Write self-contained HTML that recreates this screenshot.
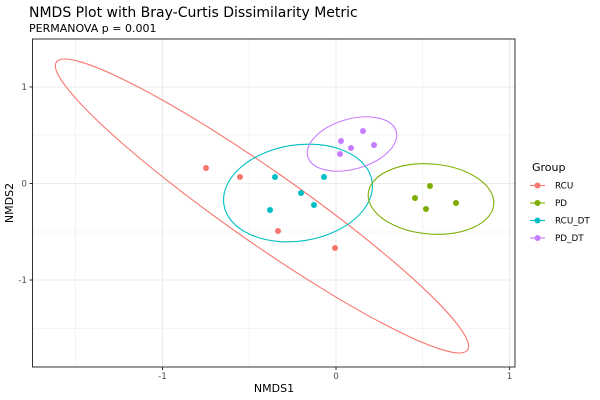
<!DOCTYPE html>
<html><head><meta charset="utf-8"><style>
html,body{margin:0;padding:0;background:#fff;}
svg{display:block;font-family:"DejaVu Sans","Liberation Sans",sans-serif;}
</style></head><body>
<svg width="600" height="400" viewBox="0 0 600 400" xmlns="http://www.w3.org/2000/svg">
<rect width="600" height="400" fill="#fff"/>
<text x="29" y="17" font-size="14" fill="#000">NMDS Plot with Bray-Curtis Dissimilarity Metric</text>
<text x="29" y="32" font-size="11" fill="#000">PERMANOVA p = 0.001</text>
<g stroke="#ebebeb" stroke-width="0.6">
<line x1="75.5" y1="39" x2="75.5" y2="367"/><line x1="249" y1="39" x2="249" y2="367"/><line x1="422.5" y1="39" x2="422.5" y2="367"/>
<line x1="32.5" y1="135" x2="515" y2="135"/><line x1="32.5" y1="232" x2="515" y2="232"/><line x1="32.5" y1="328.5" x2="515" y2="328.5"/>
</g>
<g stroke="#ebebeb" stroke-width="1.1">
<line x1="162.5" y1="39" x2="162.5" y2="367"/><line x1="336" y1="39" x2="336" y2="367"/><line x1="509.5" y1="39" x2="509.5" y2="367"/>
<line x1="32.5" y1="87" x2="515" y2="87"/><line x1="32.5" y1="183.5" x2="515" y2="183.5"/><line x1="32.5" y1="280" x2="515" y2="280"/>
</g>
<g fill="none" stroke-width="1.1">
<ellipse cx="262" cy="206" rx="251" ry="36" transform="rotate(35 262 206)" stroke="#F8766D"/>
<ellipse cx="298" cy="193" rx="75" ry="48" transform="rotate(-9 298 193)" stroke="#00BFC4"/>
<ellipse cx="352" cy="144" rx="46" ry="25" transform="rotate(-16 352 144)" stroke="#C77CFF"/>
<ellipse cx="431" cy="199" rx="63" ry="35" transform="rotate(5 431 199)" stroke="#7CAE00"/>
</g>
<g fill="#F8766D"><circle cx="206" cy="168" r="3"/><circle cx="240" cy="177" r="3"/><circle cx="278" cy="231" r="3"/><circle cx="335" cy="248" r="3"/></g>
<g fill="#7CAE00"><circle cx="430" cy="186" r="3"/><circle cx="415" cy="198" r="3"/><circle cx="426" cy="209" r="3"/><circle cx="456" cy="203" r="3"/></g>
<g fill="#00BFC4"><circle cx="275" cy="177" r="3"/><circle cx="324" cy="177" r="3"/><circle cx="301" cy="193" r="3"/><circle cx="314" cy="205" r="3"/><circle cx="270" cy="210" r="3"/></g>
<g fill="#C77CFF"><circle cx="341" cy="141" r="3"/><circle cx="363" cy="131" r="3"/><circle cx="351" cy="148" r="3"/><circle cx="374" cy="145" r="3"/><circle cx="340" cy="154" r="3"/></g>
<rect x="32.5" y="39" width="482.5" height="328" fill="none" stroke="#333" stroke-width="1"/>
<g stroke="#333" stroke-width="1">
<line x1="162.5" y1="367" x2="162.5" y2="370"/><line x1="336" y1="367" x2="336" y2="370"/><line x1="509.5" y1="367" x2="509.5" y2="370"/>
<line x1="29.5" y1="87" x2="32.5" y2="87"/><line x1="29.5" y1="183.5" x2="32.5" y2="183.5"/><line x1="29.5" y1="280" x2="32.5" y2="280"/>
</g>
<g font-size="8.8" fill="#4d4d4d" text-anchor="middle">
<text x="162.5" y="379">-1</text><text x="336" y="379">0</text><text x="509.5" y="379">1</text>
</g>
<g font-size="8.8" fill="#4d4d4d" text-anchor="end">
<text x="27" y="90">1</text><text x="27" y="186.5">0</text><text x="27" y="283">-1</text>
</g>
<text x="274" y="392" font-size="11" text-anchor="middle" fill="#000">NMDS1</text>
<text transform="translate(13 203) rotate(-90)" font-size="11" text-anchor="middle" fill="#000">NMDS2</text>
<text x="532" y="171" font-size="11" fill="#000">Group</text>
<g stroke-width="1.1">
<line x1="530" y1="185.5" x2="545" y2="185.5" stroke="#F8766D"/><circle cx="537.5" cy="185.5" r="3" fill="#F8766D"/>
<line x1="530" y1="203" x2="545" y2="203" stroke="#7CAE00"/><circle cx="537.5" cy="203" r="3" fill="#7CAE00"/>
<line x1="530" y1="220.5" x2="545" y2="220.5" stroke="#00BFC4"/><circle cx="537.5" cy="220.5" r="3" fill="#00BFC4"/>
<line x1="530" y1="238" x2="545" y2="238" stroke="#C77CFF"/><circle cx="537.5" cy="238" r="3" fill="#C77CFF"/>
</g>
<g font-size="8.8" fill="#000">
<text x="555" y="188.5">RCU</text><text x="555" y="206">PD</text><text x="555" y="223.5">RCU_DT</text><text x="555" y="241">PD_DT</text>
</g>
</svg>
</body></html>
